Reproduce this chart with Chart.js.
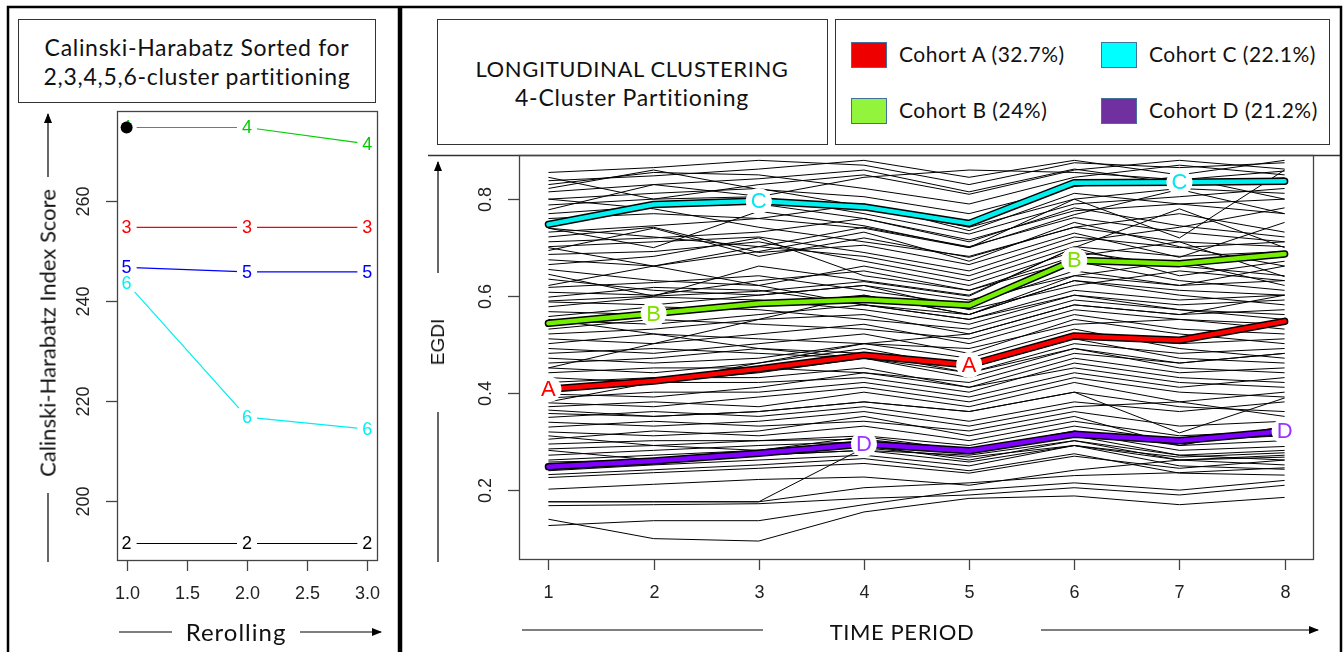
<!DOCTYPE html>
<html>
<head>
<meta charset="utf-8">
<script src="https://cdn.jsdelivr.net/npm/chart.js@4.4.1/dist/chart.umd.min.js"></script>
<style>
body{margin:0;background:#fff;width:1344px;height:652px;overflow:hidden;position:relative;font-family:Lato,"Open Sans",sans-serif;color:#111}
canvas{position:absolute;top:0}
svg{position:absolute;left:0;top:0}
.box{position:absolute;border:1px solid #333;box-sizing:border-box;background:#fff}
.t{position:absolute;white-space:nowrap;transform:translate(-50%,-50%)}
.sw{position:absolute;width:36px;height:26px;box-sizing:border-box;border:1px solid #41719c}
</style>
</head>
<body>
<svg width="1344" height="652">
  <defs>
    <marker id="ah" markerWidth="10" markerHeight="8" refX="9" refY="4" orient="auto" markerUnits="userSpaceOnUse">
      <path d="M0,0 L10,4 L0,8 z" fill="#000"/>
    </marker>
  </defs>
  <!-- frames -->
  <rect x="8" y="7" width="391" height="660" fill="none" stroke="#000" stroke-width="2.5"/>
  <rect x="401" y="7" width="940" height="660" fill="none" stroke="#000" stroke-width="2.5"/>
  <line x1="428" y1="155.5" x2="1340" y2="155.5" stroke="#333" stroke-width="1.3"/>
  <!-- left axis arrows -->
  <line x1="48" y1="177" x2="48" y2="114" stroke="#000" stroke-width="1.2" marker-end="url(#ah)"/>
  <line x1="48" y1="493" x2="48" y2="562" stroke="#000" stroke-width="1.2"/>
  <line x1="119" y1="632" x2="172" y2="632" stroke="#000" stroke-width="1.2"/>
  <line x1="300" y1="632" x2="381" y2="632" stroke="#000" stroke-width="1.2" marker-end="url(#ah)"/>
  <!-- right axis arrows -->
  <line x1="438" y1="273" x2="438" y2="162" stroke="#000" stroke-width="1.2" marker-end="url(#ah)"/>
  <line x1="438" y1="412" x2="438" y2="562" stroke="#000" stroke-width="1.2"/>
  <line x1="522" y1="630" x2="763" y2="630" stroke="#000" stroke-width="1.2"/>
  <line x1="1041" y1="630" x2="1318" y2="630" stroke="#000" stroke-width="1.2" marker-end="url(#ah)"/>
</svg>

<canvas id="left" width="400" height="652" style="left:0"></canvas>
<canvas id="right" width="944" height="652" style="left:400px"></canvas>

<div class="box" style="left:18px;top:19px;width:358px;height:84px"></div>
<div class="t" style="left:197px;top:47px;font-size:23px;letter-spacing:0.7px">Calinski-Harabatz Sorted for</div>
<div class="t" style="left:197px;top:76px;font-size:23px;letter-spacing:0.7px">2,3,4,5,6-cluster partitioning</div>
<div class="t" style="left:47px;top:333px;font-size:22px;transform:translate(-50%,-50%) rotate(-90deg)">Calinski-Harabatz Index Score</div>
<div class="t" style="left:236px;top:631px;font-size:24px;letter-spacing:1px">Rerolling</div>

<div class="box" style="left:437px;top:19px;width:391px;height:126px"></div>
<div class="t" style="left:632px;top:68px;font-size:22px;letter-spacing:0.6px">LONGITUDINAL CLUSTERING</div>
<div class="t" style="left:632px;top:97px;font-size:23px;letter-spacing:0.8px">4-Cluster Partitioning</div>
<div class="box" style="left:835px;top:19px;width:495px;height:126px"></div>
<div id="legend"></div>
<div class="t" style="left:438px;top:342px;font-size:19px;font-family:'Liberation Sans',Arial,sans-serif;transform:translate(-50%,-50%) rotate(-90deg)">EGDI</div>
<div class="t" style="left:902px;top:631px;font-size:22px;letter-spacing:0.6px">TIME PERIOD</div>

<script>
// ---- left panel: Calinski-Harabatz per rerolling ----
var rerolling = [1, 2, 3];
var ch2 = [191.4, 191.4, 191.4];
var ch3 = [254.7, 254.7, 254.7];
var ch4 = [274.7, 274.7, 271.4];
var ch5 = [246.7, 245.8, 245.8];
var ch6 = [243.6, 216.7, 214.3];
var chNames = ['2', '3', '4', '5', '6'];
var chColors = ['#000000', '#ff0000', '#00cd00', '#0000ff', '#00f0f0'];
var chBest = [1, 274.7];
var chTicksX = [1.0, 1.5, 2.0, 2.5, 3.0];
var chTicksY = [200, 220, 240, 260];

// ---- right panel: EGDI trajectories ----
var periods = [1, 2, 3, 4, 5, 6, 7, 8];
var cohortA = [0.408, 0.425, 0.450, 0.478, 0.458, 0.518, 0.509, 0.548];
var cohortB = [0.544, 0.564, 0.585, 0.593, 0.581, 0.674, 0.667, 0.687];
var cohortC = [0.748, 0.789, 0.796, 0.784, 0.750, 0.834, 0.835, 0.837];
var cohortD = [0.248, 0.260, 0.276, 0.295, 0.281, 0.315, 0.302, 0.322];
var cohortNames = ['A', 'B', 'C', 'D'];
var cohortLegend = ['Cohort A (32.7%)', 'Cohort B (24%)', 'Cohort C (22.1%)', 'Cohort D (21.2%)'];
var cohortLine = ['#ff0000', '#76ee00', '#00f0f0', '#7f00ff'];
var cohortText = ['#ff0000', '#7fe000', '#00e8f0', '#9933ff'];
var cohortSwatch = ['#ee0000', '#92f53c', '#00ffff', '#7030a0'];
var cohortLabelAt = [[1, 5], [2, 6], [3, 7], [4, 8]];
var egdiTicks = [0.2, 0.4, 0.6, 0.8];

var trajectories = [
  [0.855, 0.865, 0.880, 0.870, 0.830, 0.875, 0.865, 0.875],
  [0.845, 0.800, 0.830, 0.850, 0.810, 0.860, 0.880, 0.862],
  [0.838, 0.848, 0.862, 0.880, 0.845, 0.880, 0.850, 0.880],
  [0.830, 0.855, 0.850, 0.822, 0.790, 0.845, 0.870, 0.850],
  [0.822, 0.860, 0.820, 0.805, 0.770, 0.826, 0.846, 0.800],
  [0.815, 0.830, 0.842, 0.860, 0.815, 0.862, 0.832, 0.844],
  [0.800, 0.812, 0.822, 0.785, 0.742, 0.800, 0.822, 0.812],
  [0.788, 0.800, 0.805, 0.845, 0.860, 0.855, 0.840, 0.858],
  [0.778, 0.830, 0.806, 0.770, 0.728, 0.790, 0.805, 0.822],
  [0.770, 0.785, 0.790, 0.760, 0.716, 0.776, 0.790, 0.800],
  [0.740, 0.700, 0.775, 0.745, 0.700, 0.768, 0.820, 0.770],
  [0.732, 0.745, 0.760, 0.790, 0.735, 0.812, 0.790, 0.770],
  [0.722, 0.742, 0.690, 0.705, 0.665, 0.730, 0.680, 0.752],
  [0.712, 0.720, 0.732, 0.760, 0.712, 0.782, 0.745, 0.722],
  [0.702, 0.712, 0.722, 0.690, 0.652, 0.722, 0.700, 0.712],
  [0.694, 0.740, 0.682, 0.720, 0.680, 0.742, 0.770, 0.732],
  [0.686, 0.692, 0.712, 0.672, 0.632, 0.702, 0.682, 0.692],
  [0.675, 0.662, 0.692, 0.732, 0.672, 0.752, 0.702, 0.662],
  [0.665, 0.682, 0.720, 0.642, 0.612, 0.682, 0.712, 0.640],
  [0.655, 0.632, 0.622, 0.662, 0.622, 0.692, 0.662, 0.642],
  [0.645, 0.600, 0.662, 0.632, 0.602, 0.700, 0.642, 0.672],
  [0.635, 0.612, 0.602, 0.622, 0.592, 0.642, 0.672, 0.622],
  [0.700, 0.662, 0.622, 0.582, 0.552, 0.602, 0.572, 0.552],
  [0.622, 0.662, 0.702, 0.742, 0.702, 0.762, 0.732, 0.712],
  [0.800, 0.780, 0.742, 0.712, 0.682, 0.742, 0.712, 0.702],
  [0.740, 0.722, 0.702, 0.682, 0.642, 0.712, 0.742, 0.782],
  [0.760, 0.770, 0.760, 0.740, 0.700, 0.800, 0.720, 0.860],
  [0.590, 0.600, 0.610, 0.630, 0.600, 0.700, 0.780, 0.700],
  [0.618, 0.628, 0.642, 0.612, 0.582, 0.652, 0.622, 0.632],
  [0.608, 0.602, 0.632, 0.652, 0.612, 0.672, 0.632, 0.612],
  [0.598, 0.618, 0.612, 0.582, 0.562, 0.632, 0.612, 0.602],
  [0.588, 0.582, 0.602, 0.622, 0.572, 0.622, 0.652, 0.632],
  [0.578, 0.598, 0.592, 0.572, 0.542, 0.602, 0.582, 0.592],
  [0.568, 0.562, 0.582, 0.602, 0.562, 0.632, 0.602, 0.582],
  [0.558, 0.578, 0.572, 0.552, 0.532, 0.592, 0.572, 0.562],
  [0.550, 0.542, 0.562, 0.582, 0.552, 0.612, 0.592, 0.602],
  [0.532, 0.552, 0.542, 0.532, 0.512, 0.572, 0.552, 0.542],
  [0.522, 0.532, 0.552, 0.562, 0.522, 0.582, 0.562, 0.572],
  [0.512, 0.502, 0.522, 0.542, 0.502, 0.562, 0.532, 0.522],
  [0.502, 0.522, 0.512, 0.502, 0.492, 0.542, 0.552, 0.532],
  [0.492, 0.482, 0.502, 0.522, 0.482, 0.552, 0.522, 0.502],
  [0.452, 0.502, 0.552, 0.602, 0.562, 0.642, 0.622, 0.662],
  [0.552, 0.522, 0.492, 0.472, 0.442, 0.492, 0.462, 0.482],
  [0.482, 0.492, 0.482, 0.472, 0.462, 0.522, 0.502, 0.512],
  [0.472, 0.462, 0.472, 0.502, 0.472, 0.532, 0.492, 0.472],
  [0.462, 0.472, 0.492, 0.482, 0.442, 0.502, 0.482, 0.492],
  [0.452, 0.442, 0.462, 0.492, 0.452, 0.512, 0.472, 0.462],
  [0.442, 0.452, 0.452, 0.442, 0.422, 0.482, 0.462, 0.482],
  [0.432, 0.422, 0.442, 0.472, 0.432, 0.492, 0.452, 0.442],
  [0.422, 0.432, 0.432, 0.452, 0.412, 0.472, 0.442, 0.452],
  [0.412, 0.422, 0.422, 0.432, 0.402, 0.462, 0.432, 0.422],
  [0.398, 0.392, 0.412, 0.442, 0.412, 0.452, 0.422, 0.412],
  [0.390, 0.402, 0.402, 0.422, 0.392, 0.442, 0.412, 0.432],
  [0.380, 0.372, 0.392, 0.412, 0.382, 0.432, 0.402, 0.392],
  [0.372, 0.382, 0.372, 0.402, 0.372, 0.422, 0.382, 0.402],
  [0.382, 0.422, 0.462, 0.502, 0.522, 0.582, 0.562, 0.602],
  [0.365, 0.352, 0.362, 0.382, 0.362, 0.402, 0.318, 0.390],
  [0.358, 0.352, 0.362, 0.382, 0.362, 0.402, 0.372, 0.362],
  [0.350, 0.362, 0.352, 0.372, 0.342, 0.382, 0.362, 0.382],
  [0.340, 0.332, 0.342, 0.362, 0.332, 0.372, 0.382, 0.352],
  [0.330, 0.342, 0.332, 0.342, 0.322, 0.362, 0.332, 0.342],
  [0.320, 0.312, 0.322, 0.352, 0.312, 0.352, 0.292, 0.332],
  [0.305, 0.322, 0.312, 0.332, 0.302, 0.342, 0.312, 0.322],
  [0.295, 0.302, 0.302, 0.312, 0.292, 0.332, 0.302, 0.312],
  [0.285, 0.292, 0.302, 0.305, 0.282, 0.322, 0.292, 0.302],
  [0.272, 0.282, 0.292, 0.300, 0.278, 0.318, 0.282, 0.290],
  [0.262, 0.272, 0.282, 0.292, 0.262, 0.302, 0.272, 0.262],
  [0.258, 0.262, 0.272, 0.282, 0.258, 0.292, 0.262, 0.268],
  [0.240, 0.252, 0.262, 0.272, 0.250, 0.292, 0.250, 0.243],
  [0.232, 0.242, 0.252, 0.265, 0.240, 0.275, 0.235, 0.231],
  [0.226, 0.236, 0.245, 0.255, 0.235, 0.270, 0.245, 0.262],
  [0.202, 0.212, 0.222, 0.227, 0.210, 0.241, 0.262, 0.252],
  [0.176, 0.176, 0.176, 0.287, 0.268, 0.292, 0.268, 0.277],
  [0.176, 0.176, 0.176, 0.205, 0.215, 0.230, 0.236, 0.246],
  [0.168, 0.170, 0.172, 0.183, 0.190, 0.205, 0.190, 0.210],
  [0.140, 0.100, 0.095, 0.155, 0.183, 0.188, 0.170, 0.185],
  [0.127, 0.137, 0.137, 0.170, 0.200, 0.215, 0.200, 0.220],
  [0.312, 0.292, 0.282, 0.310, 0.282, 0.312, 0.272, 0.282],
  [0.282, 0.262, 0.272, 0.282, 0.272, 0.302, 0.262, 0.272]
];

var tickFont = '18px "Liberation Sans", Arial, sans-serif';

function pts(xs, ys){
  return xs.map(function(x, i){ return {x: x, y: ys[i]}; });
}

// R style box, tick marks and rotated y tick labels
function rAxes(xTicks, xLabels, yTicks, yLabels){
  return {
    id: 'rAxes',
    afterDraw: function(chart){
      var ctx = chart.ctx, a = chart.chartArea, xs = chart.scales.x, ys = chart.scales.y;
      ctx.save();
      ctx.strokeStyle = '#444';
      ctx.lineWidth = 1.3;
      ctx.strokeRect(a.left + 0.5, a.top + 0.5, a.right - a.left, a.bottom - a.top);
      ctx.fillStyle = '#222';
      ctx.font = tickFont;
      ctx.textAlign = 'center';
      ctx.textBaseline = 'middle';
      xTicks.forEach(function(v, i){
        var px = Math.round(xs.getPixelForValue(v)) + 0.5;
        ctx.beginPath(); ctx.moveTo(px, a.bottom); ctx.lineTo(px, a.bottom + 11); ctx.stroke();
        ctx.fillText(xLabels[i], px, a.bottom + 34);
      });
      yTicks.forEach(function(v, i){
        var py = Math.round(ys.getPixelForValue(v)) + 0.5;
        ctx.beginPath(); ctx.moveTo(a.left, py); ctx.lineTo(a.left - 11, py); ctx.stroke();
        ctx.save();
        ctx.translate(a.left - 33, py);
        ctx.rotate(-Math.PI / 2);
        ctx.fillText(yLabels[i], 0, 0);
        ctx.restore();
      });
      ctx.restore();
    }
  };
}

// ---- left chart ----
var chSeries = [ch2, ch3, ch4, ch5, ch6];
var leftSets = chSeries.map(function(s, i){
  return {label: chNames[i], data: pts(rerolling, s), borderColor: chColors[i],
          borderWidth: 1.2, pointRadius: 0, tension: 0, fill: false, clip: 0};
});

var chLabels = {
  id: 'chLabels',
  afterDatasetsDraw: function(chart){
    var ctx = chart.ctx, xs = chart.scales.x, ys = chart.scales.y;
    ctx.save();
    ctx.fillStyle = '#fff';
    chSeries.forEach(function(s){
      rerolling.forEach(function(x, j){
        ctx.fillRect(xs.getPixelForValue(x) - 10, ys.getPixelForValue(s[j]) - 9, 20, 18);
      });
    });
    ctx.font = tickFont;
    ctx.textAlign = 'center';
    ctx.textBaseline = 'middle';
    chSeries.forEach(function(s, i){
      ctx.fillStyle = chColors[i];
      rerolling.forEach(function(x, j){
        ctx.fillText(chNames[i], xs.getPixelForValue(x), ys.getPixelForValue(s[j]) + 1);
      });
    });
    ctx.fillStyle = '#000';
    ctx.beginPath();
    ctx.arc(xs.getPixelForValue(chBest[0]), ys.getPixelForValue(chBest[1]), 6, 0, Math.PI * 2);
    ctx.fill();
    ctx.restore();
  }
};

new Chart(document.getElementById('left'), {
  type: 'line',
  data: {datasets: leftSets},
  options: {
    responsive: false, animation: false, events: [], devicePixelRatio: 1,
    layout: {padding: {left: 117, top: 111, right: 23, bottom: 92}},
    plugins: {legend: {display: false}, tooltip: {enabled: false}},
    scales: {
      x: {type: 'linear', min: 0.92, max: 3.08, display: false},
      y: {type: 'linear', min: 188.1, max: 278, display: false}
    }
  },
  plugins: [chLabels, rAxes(chTicksX, chTicksX.map(function(v){ return v.toFixed(1); }),
                            chTicksY, chTicksY.map(String))]
});

// ---- right chart ----
var cohorts = [cohortA, cohortB, cohortC, cohortD];
var rightSets = trajectories.map(function(t){
  return {data: pts(periods, t), borderColor: '#000', borderWidth: 1, pointRadius: 0,
          tension: 0, fill: false, clip: 0, order: 3};
});
cohorts.forEach(function(c){
  rightSets.push({data: pts(periods, c), borderColor: '#000', borderWidth: 7.5, pointRadius: 0,
                  tension: 0, fill: false, clip: 0, order: 2, borderCapStyle: 'round', borderJoinStyle: 'round'});
});
cohorts.forEach(function(c, i){
  rightSets.push({data: pts(periods, c), borderColor: cohortLine[i], borderWidth: 4.5, pointRadius: 0,
                  tension: 0, fill: false, clip: 0, order: 1, borderCapStyle: 'round', borderJoinStyle: 'round'});
});

var cohortLabels = {
  id: 'cohortLabels',
  afterDatasetsDraw: function(chart){
    var ctx = chart.ctx, xs = chart.scales.x, ys = chart.scales.y;
    ctx.save();
    ctx.font = '22px "Liberation Sans", Arial, sans-serif';
    ctx.textAlign = 'center';
    ctx.textBaseline = 'middle';
    cohorts.forEach(function(c, i){
      cohortLabelAt[i].forEach(function(p){
        var px = xs.getPixelForValue(p), py = ys.getPixelForValue(c[p - 1]);
        ctx.fillStyle = '#fff';
        ctx.beginPath(); ctx.arc(px, py, 13, 0, Math.PI * 2); ctx.fill();
        ctx.fillStyle = cohortText[i];
        ctx.fillText(cohortNames[i], px, py + 1);
      });
    });
    ctx.restore();
  }
};

new Chart(document.getElementById('right'), {
  type: 'line',
  data: {datasets: rightSets},
  options: {
    responsive: false, animation: false, events: [], devicePixelRatio: 1,
    layout: {padding: {left: 119, top: 155, right: 31, bottom: 93}},
    plugins: {legend: {display: false}, tooltip: {enabled: false}},
    scales: {
      x: {type: 'linear', min: 0.72, max: 8.27, display: false},
      y: {type: 'linear', min: 0.058, max: 0.891, display: false}
    }
  },
  plugins: [cohortLabels, rAxes(periods, periods.map(String), egdiTicks, egdiTicks.map(String))]
});

// legend entries (HTML)
var legendPos = [[851, 42], [851, 98], [1101, 42], [1101, 98]];
var lg = document.getElementById('legend');
cohortLegend.forEach(function(txt, i){
  var sw = document.createElement('div');
  sw.className = 'sw';
  sw.style.left = legendPos[i][0] + 'px';
  sw.style.top = legendPos[i][1] + 'px';
  sw.style.background = cohortSwatch[i];
  lg.appendChild(sw);
  var t = document.createElement('div');
  t.style.position = 'absolute';
  t.style.whiteSpace = 'nowrap';
  t.style.fontSize = '21px';
  t.style.letterSpacing = '0.5px';
  t.style.left = (legendPos[i][0] + 48) + 'px';
  t.style.top = (legendPos[i][1] - 1) + 'px';
  t.style.lineHeight = '26px';
  t.textContent = txt;
  lg.appendChild(t);
});
</script>
</body>
</html>
